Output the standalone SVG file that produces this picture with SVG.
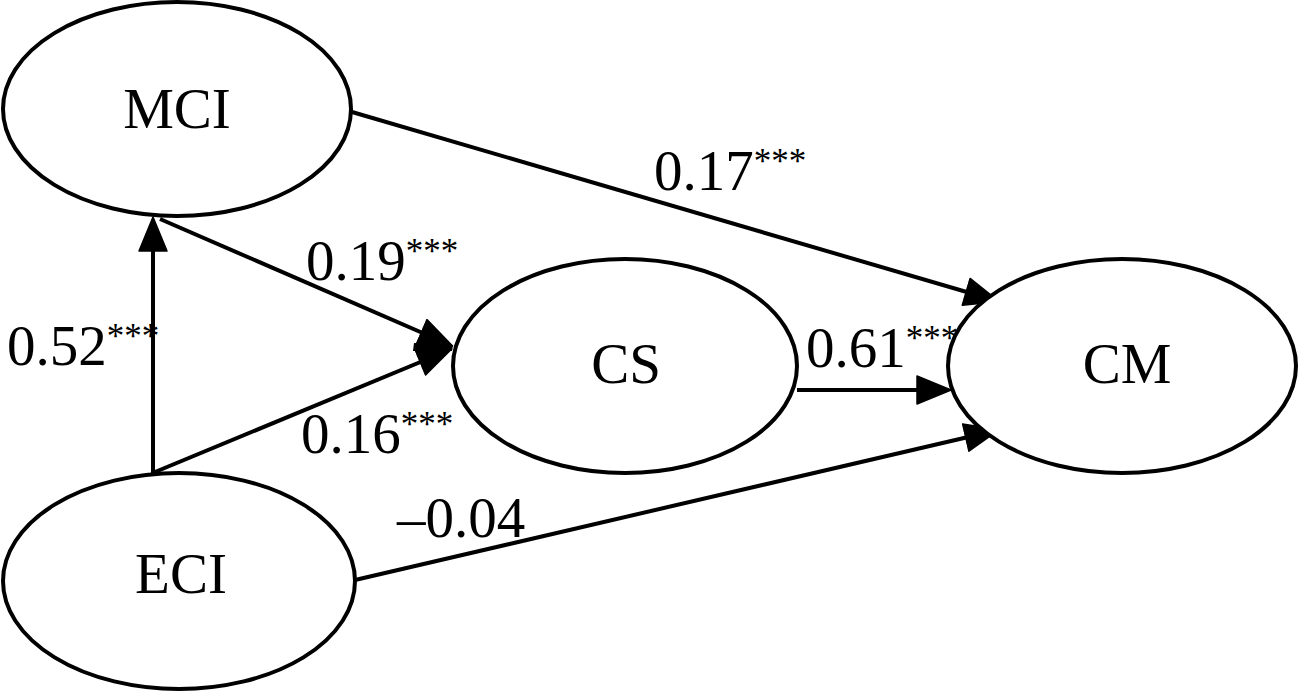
<svg xmlns="http://www.w3.org/2000/svg" width="1299" height="694" viewBox="0 0 1299 694">
<defs>
<marker id="arr" markerUnits="userSpaceOnUse" markerWidth="40" markerHeight="34" refX="30" refY="16" orient="auto">
<path d="M1,2 L35,16 L1,30 z" fill="#000" stroke="#000" stroke-width="1.5" stroke-linejoin="round"/>
</marker>
<style>
.node ellipse{fill:#fff;stroke:#000;stroke-width:4}
.lbl{font-family:"Liberation Serif","Times New Roman",serif;font-size:57px;fill:#000;text-anchor:middle}
.num{font-family:"Liberation Serif","Times New Roman",serif;font-size:57px;fill:#000}
.sup{font-size:35px}
.edge{stroke:#000;stroke-width:4;fill:none;marker-end:url(#arr)}
</style>
</defs>
<rect width="1299" height="694" fill="#fff"/>
<g id="connectors">
<line class="edge" x1="153" y1="473" x2="153" y2="222"/>
<line class="edge" x1="160" y1="219" x2="448" y2="344"/>
<line class="edge" x1="155" y1="472" x2="447" y2="351"/>
<polygon points="414,343 453,345 452,351 413,351" fill="#000"/>
<line class="edge" x1="352" y1="112" x2="994" y2="300"/>
<line class="edge" x1="797" y1="390" x2="946" y2="390"/>
<line class="edge" x1="355" y1="580" x2="994" y2="431"/>
</g>
<g id="MCI" class="node"><ellipse cx="177" cy="109" rx="174" ry="107"/><text class="lbl" x="177" y="128">MCI</text></g>
<g id="ECI" class="node"><ellipse cx="179" cy="581" rx="176" ry="108"/><text class="lbl" x="181" y="593">ECI</text></g>
<g id="CS" class="node"><ellipse cx="625" cy="366" rx="172" ry="107"/><text class="lbl" x="626" y="383">CS</text></g>
<g id="CM" class="node"><ellipse cx="1122" cy="366" rx="174" ry="107"/><text class="lbl" x="1127" y="383">CM</text></g>
<g id="labels">
<text class="num" x="654" y="190">0.17<tspan class="sup" dy="-17">***</tspan></text>
<text class="num" x="306" y="280">0.19<tspan class="sup" dy="-17">***</tspan></text>
<text class="num" x="301" y="453">0.16<tspan class="sup" dy="-17">***</tspan></text>
<text class="num" x="806" y="367">0.61<tspan class="sup" dy="-17">***</tspan></text>
<text class="num" x="7" y="365">0.52<tspan class="sup" dy="-17">***</tspan></text>
<text class="num" x="397" y="537">–0.04</text>
</g>
</svg>
